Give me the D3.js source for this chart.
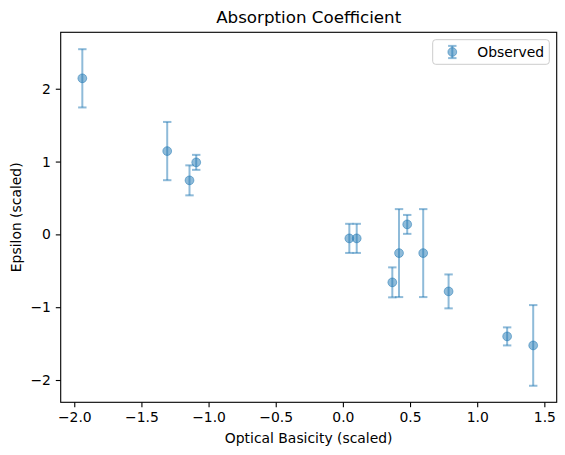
<!DOCTYPE html>
<html>
<head>
<meta charset="utf-8">
<script src="https://cdn.jsdelivr.net/npm/d3@7"></script>
<style>
  body { margin: 0; background: #fff; }
  text { font-family: "DejaVu Sans", sans-serif; fill: #000; }
</style>
</head>
<body>
<script>
// data
const basicity = [-1.940, -1.308, -1.142, -1.092, 0.048, 0.103, 0.368, 0.418, 0.479, 0.598, 0.787, 1.223, 1.417]
const epsilon = [2.143, 1.144, 0.742, 0.989, -0.055, -0.055, -0.659, -0.257, 0.137, -0.257, -0.783, -1.401, -1.525]
const epsErr = [0.40, 0.40, 0.206, 0.103, 0.20, 0.20, 0.206, 0.604, 0.13, 0.604, 0.233, 0.124, 0.554]
const xTicks = [-2.0, -1.5, -1.0, -0.5, 0.0, 0.5, 1.0, 1.5]
const yTicks = [-2, -1, 0, 1, 2]

const points = basicity.map((x, i) => ({x: x, y: epsilon[i], e: epsErr[i]}))

const margin = {top: 32.3, bottom: 52.7, left: 60.7, right: 8.3}
const width = 565 - margin.left - margin.right
const height = 455 - margin.top - margin.bottom
const color = '#1f77b4'

const svg = d3.select('body').append('svg')
  .attr('width', 565)
  .attr('height', 455)

const g = svg.append('g')
  .attr('transform', `translate(${margin.left},${margin.top})`)

const xscale = d3.scaleLinear().domain([-2.101, 1.592]).range([0, width])
const yscale = d3.scaleLinear().domain([-2.306, 2.775]).range([height, 0])

// axes
const xaxis = d3.axisBottom(xscale).tickValues(xTicks).tickFormat(d => d3.format('.1f')(d).replace('-', '\u2212')).tickSizeOuter(0).tickSize(4.9).tickPadding(4.9)
const yaxis = d3.axisLeft(yscale).tickValues(yTicks).tickFormat(d => String(d).replace('-', '\u2212')).tickSizeOuter(0).tickSize(4.9).tickPadding(4.9)

const gx = g.append('g').attr('transform', `translate(0,${height})`).call(xaxis)
const gy = g.append('g').call(yaxis)
gx.select('.domain').remove()
gy.select('.domain').remove()
g.selectAll('.tick line').attr('stroke', '#000').attr('stroke-width', 1.1)
g.selectAll('.tick text').style('font-size', '13.9px').attr('fill', '#000')

// error bars
const bars = g.append('g').attr('stroke', color).attr('stroke-opacity', 0.5).attr('stroke-width', 2)
bars.selectAll('line.v').data(points).join('line').attr('class', 'v')
  .attr('x1', d => xscale(d.x)).attr('x2', d => xscale(d.x))
  .attr('y1', d => yscale(d.y - d.e)).attr('y2', d => yscale(d.y + d.e))
bars.selectAll('line.top').data(points).join('line').attr('class', 'top')
  .attr('x1', d => xscale(d.x) - 4.2).attr('x2', d => xscale(d.x) + 4.2)
  .attr('y1', d => yscale(d.y + d.e)).attr('y2', d => yscale(d.y + d.e))
bars.selectAll('line.bot').data(points).join('line').attr('class', 'bot')
  .attr('x1', d => xscale(d.x) - 4.2).attr('x2', d => xscale(d.x) + 4.2)
  .attr('y1', d => yscale(d.y - d.e)).attr('y2', d => yscale(d.y - d.e))

// markers
g.selectAll('circle').data(points).join('circle')
  .attr('cx', d => xscale(d.x))
  .attr('cy', d => yscale(d.y))
  .attr('r', 4.4)
  .attr('fill', color)
  .attr('fill-opacity', 0.5)
  .attr('stroke', color)
  .attr('stroke-opacity', 0.5)
  .attr('stroke-width', 1)

// frame
g.append('rect').attr('width', width).attr('height', height)
  .attr('fill', 'none').attr('stroke', '#000').attr('stroke-width', 1.1)

// legend
const lg = g.append('g').attr('transform', `translate(${432.7 - margin.left},${39.7 - margin.top})`)
lg.append('rect').attr('width', 116.6).attr('height', 24.6).attr('rx', 3)
  .attr('fill', '#fff').attr('fill-opacity', 0.8).attr('stroke', '#ccc').attr('stroke-width', 1)
lg.append('line').attr('x1', 19.6).attr('x2', 19.6).attr('y1', 6.2).attr('y2', 18.4)
  .attr('stroke', color).attr('stroke-opacity', 0.5).attr('stroke-width', 2)
lg.append('line').attr('x1', 15.4).attr('x2', 23.8).attr('y1', 6.2).attr('y2', 6.2)
  .attr('stroke', color).attr('stroke-opacity', 0.5).attr('stroke-width', 2)
lg.append('line').attr('x1', 15.4).attr('x2', 23.8).attr('y1', 18.4).attr('y2', 18.4)
  .attr('stroke', color).attr('stroke-opacity', 0.5).attr('stroke-width', 2)
lg.append('circle').attr('cx', 19.6).attr('cy', 12.3).attr('r', 4.4)
  .attr('fill', color).attr('fill-opacity', 0.5).attr('stroke', color).attr('stroke-opacity', 0.5)
lg.append('text').attr('x', 44.6).attr('y', 12.3).attr('dy', '0.35em')
  .style('font-size', '13.9px').text('Observed')

// labels
svg.append('text').attr('x', margin.left + width / 2).attr('y', 23)
  .attr('text-anchor', 'middle').style('font-size', '16.7px').text('Absorption Coefficient')
svg.append('text').attr('x', margin.left + width / 2).attr('y', 443)
  .attr('text-anchor', 'middle').style('font-size', '13.9px').text('Optical Basicity (scaled)')
svg.append('text').attr('transform', `translate(21,${margin.top + height / 2}) rotate(-90)`)
  .attr('text-anchor', 'middle').style('font-size', '13.9px').text('Epsilon (scaled)')
</script>
</body>
</html>
